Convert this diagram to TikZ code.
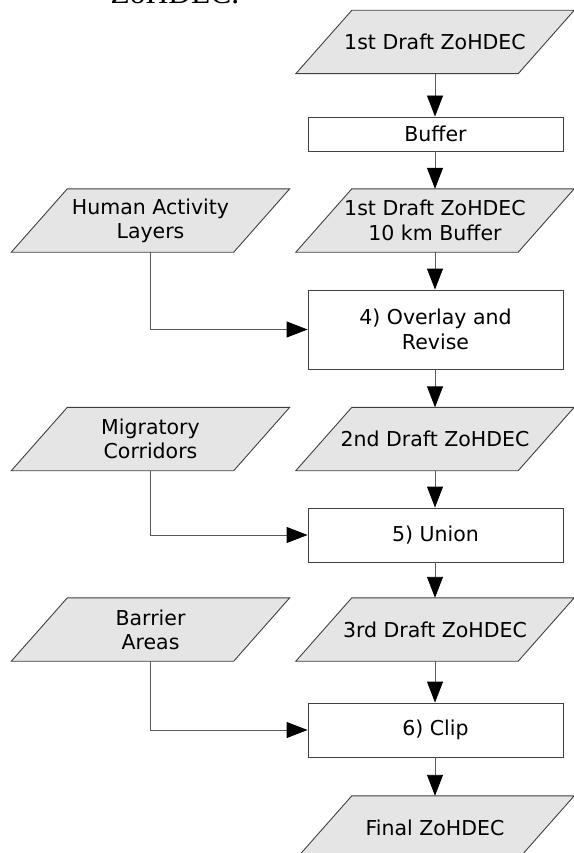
\documentclass[tikz,border=0pt]{standalone}
\usepackage{fontspec}
\setmainfont{DejaVu Sans}
\newfontfamily\capserif{Liberation Serif}
\usetikzlibrary{arrows.meta,backgrounds}
\tikzset{
  data/.style={shape=rectangle, minimum width=222pt, minimum height=63pt, inner sep=0pt,
    align=center, font=\fontsize{20.5}{24.3}\selectfont},
  dataframe/.style={draw=black!75, fill=black!10, line width=0.9pt, line join=miter},
  proc/.style={shape=rectangle, minimum width=255pt, inner sep=0pt,
    draw=black!75, fill=white, line width=0.9pt, align=center,
    font=\fontsize{20.5}{24.3}\selectfont},
  flow/.style={draw=black!65, line width=0.9pt,
    -{Triangle[length=21pt,width=16pt,color=black]}}
}
\newcommand\datanode[3]{%
  \node[data] (#1) at (#2) {#3};
  \begin{scope}[on background layer]
    \path[dataframe] ([xshift=-28pt]#1.south west) -- ([xshift=28pt]#1.north west)
      -- ([xshift=28pt]#1.north east) -- ([xshift=-28pt]#1.south east) -- cycle;
  \end{scope}}
\begin{document}
\begin{tikzpicture}[x=1pt,y=-1pt]
\useasboundingbox (0,0) rectangle (573,853);
\node[anchor=base west, font=\capserif\fontsize{31.5}{36}\selectfont] (cap) at (107,4) {ZoHDEC.};
\datanode{p1}{435,42}{1st Draft ZoHDEC}
\node[proc, minimum height=34pt] (buf) at (435.5,134) {Buffer};
\datanode{p2}{435,220.5}{1st Draft ZoHDEC\\10 km Buffer}
\datanode{human}{150.5,220.5}{Human Activity\\Layers}
\node[proc, minimum height=79pt] (b4) at (435.5,329.5) {4) Overlay and\\Revise};
\datanode{p3}{435,439}{2nd Draft ZoHDEC}
\datanode{migr}{150.5,439}{Migratory\\Corridors}
\node[proc, minimum height=54pt] (b5) at (435.5,535) {5) Union};
\datanode{p4}{435,629.5}{3rd Draft ZoHDEC}
\datanode{barr}{150.5,629.5}{Barrier\\Areas}
\node[proc, minimum height=54pt] (b6) at (435.5,730) {6) Clip};
\datanode{fin}{435,827.5}{Final ZoHDEC}
\draw[flow] (p1.south) -- (p1.south |- buf.north);
\draw[flow] (buf.south -| p2.north) -- (p2.north);
\draw[flow] (p2.south) -- (p2.south |- b4.north);
\draw[flow] (b4.south -| p3.north) -- (p3.north);
\draw[flow] (p3.south) -- (p3.south |- b5.north);
\draw[flow] (b5.south -| p4.north) -- (p4.north);
\draw[flow] (p4.south) -- (p4.south |- b6.north);
\draw[flow] (b6.south -| fin.north) -- (fin.north);
\draw[flow] (human.south) |- (b4.west);
\draw[flow] (migr.south) |- (b5.west);
\draw[flow] (barr.south) |- (b6.west);
\end{tikzpicture}
\end{document}
